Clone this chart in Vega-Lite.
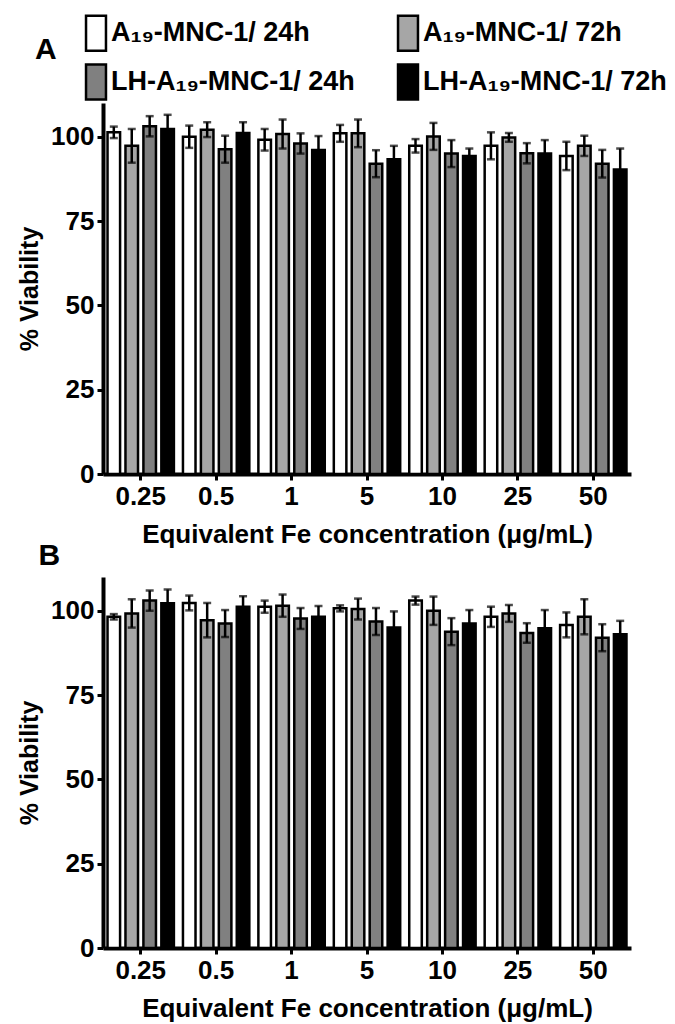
{
  "$schema": "https://vega.github.io/schema/vega-lite/v6.json",
  "padding": {"left": 17, "top": 14, "right": 5, "bottom": 5},
  "spacing": -6,
  "datasets": {
    "d": [
      {"p":"A","c":"0.25","s":"A₁₉-MNC-1/ 24h","v":101.3,"lo":99.6,"hi":103.0},
      {"p":"A","c":"0.25","s":"A₁₉-MNC-1/ 72h","v":97.3,"lo":92.3,"hi":102.3},
      {"p":"A","c":"0.25","s":"LH-A₁₉-MNC-1/ 24h","v":103.1,"lo":100.1,"hi":106.1},
      {"p":"A","c":"0.25","s":"LH-A₁₉-MNC-1/ 72h","v":102.3,"lo":98.1,"hi":106.5},
      {"p":"A","c":"0.5","s":"A₁₉-MNC-1/ 24h","v":100,"lo":96.7,"hi":103.3},
      {"p":"A","c":"0.5","s":"A₁₉-MNC-1/ 72h","v":102.1,"lo":99.9,"hi":104.3},
      {"p":"A","c":"0.5","s":"LH-A₁₉-MNC-1/ 24h","v":96.3,"lo":92.3,"hi":100.3},
      {"p":"A","c":"0.5","s":"LH-A₁₉-MNC-1/ 72h","v":101.1,"lo":97.9,"hi":104.3},
      {"p":"A","c":"1","s":"A₁₉-MNC-1/ 24h","v":99.1,"lo":95.9,"hi":102.3},
      {"p":"A","c":"1","s":"A₁₉-MNC-1/ 72h","v":100.8,"lo":96.5,"hi":105.1},
      {"p":"A","c":"1","s":"LH-A₁₉-MNC-1/ 24h","v":98,"lo":95,"hi":101},
      {"p":"A","c":"1","s":"LH-A₁₉-MNC-1/ 72h","v":96.1,"lo":92,"hi":100.2},
      {"p":"A","c":"5","s":"A₁₉-MNC-1/ 24h","v":101,"lo":98.5,"hi":103.5},
      {"p":"A","c":"5","s":"A₁₉-MNC-1/ 72h","v":101,"lo":96.9,"hi":105.1},
      {"p":"A","c":"5","s":"LH-A₁₉-MNC-1/ 24h","v":92,"lo":88,"hi":96},
      {"p":"A","c":"5","s":"LH-A₁₉-MNC-1/ 72h","v":93.3,"lo":89.3,"hi":97.3},
      {"p":"A","c":"10","s":"A₁₉-MNC-1/ 24h","v":97.3,"lo":95.3,"hi":99.3},
      {"p":"A","c":"10","s":"A₁₉-MNC-1/ 72h","v":100.1,"lo":96.1,"hi":104.1},
      {"p":"A","c":"10","s":"LH-A₁₉-MNC-1/ 24h","v":95,"lo":91,"hi":99},
      {"p":"A","c":"10","s":"LH-A₁₉-MNC-1/ 72h","v":94.3,"lo":92.1,"hi":96.5},
      {"p":"A","c":"25","s":"A₁₉-MNC-1/ 24h","v":97.3,"lo":93.3,"hi":101.3},
      {"p":"A","c":"25","s":"A₁₉-MNC-1/ 72h","v":99.8,"lo":98.5,"hi":101.1},
      {"p":"A","c":"25","s":"LH-A₁₉-MNC-1/ 24h","v":95.1,"lo":92.1,"hi":98.1},
      {"p":"A","c":"25","s":"LH-A₁₉-MNC-1/ 72h","v":95,"lo":91,"hi":99},
      {"p":"A","c":"50","s":"A₁₉-MNC-1/ 24h","v":94.3,"lo":90.1,"hi":98.5},
      {"p":"A","c":"50","s":"A₁₉-MNC-1/ 72h","v":97.3,"lo":94.3,"hi":100.3},
      {"p":"A","c":"50","s":"LH-A₁₉-MNC-1/ 24h","v":92,"lo":87.9,"hi":96.1},
      {"p":"A","c":"50","s":"LH-A₁₉-MNC-1/ 72h","v":90.3,"lo":84.1,"hi":96.5},
      {"p":"B","c":"0.25","s":"A₁₉-MNC-1/ 24h","v":98.2,"lo":97.4,"hi":99.0},
      {"p":"B","c":"0.25","s":"A₁₉-MNC-1/ 72h","v":99.2,"lo":95.0,"hi":103.4},
      {"p":"B","c":"0.25","s":"LH-A₁₉-MNC-1/ 24h","v":103,"lo":100,"hi":106},
      {"p":"B","c":"0.25","s":"LH-A₁₉-MNC-1/ 72h","v":102.2,"lo":98.1,"hi":106.3},
      {"p":"B","c":"0.5","s":"A₁₉-MNC-1/ 24h","v":102.3,"lo":100.1,"hi":104.5},
      {"p":"B","c":"0.5","s":"A₁₉-MNC-1/ 72h","v":97.2,"lo":92.1,"hi":102.3},
      {"p":"B","c":"0.5","s":"LH-A₁₉-MNC-1/ 24h","v":96.2,"lo":92.2,"hi":100.2},
      {"p":"B","c":"0.5","s":"LH-A₁₉-MNC-1/ 72h","v":101.2,"lo":98.1,"hi":104.3},
      {"p":"B","c":"1","s":"A₁₉-MNC-1/ 24h","v":101.2,"lo":99.4,"hi":103},
      {"p":"B","c":"1","s":"A₁₉-MNC-1/ 72h","v":101.5,"lo":98.2,"hi":104.8},
      {"p":"B","c":"1","s":"LH-A₁₉-MNC-1/ 24h","v":97.7,"lo":94.6,"hi":100.8},
      {"p":"B","c":"1","s":"LH-A₁₉-MNC-1/ 72h","v":98.2,"lo":95,"hi":101.4},
      {"p":"B","c":"5","s":"A₁₉-MNC-1/ 24h","v":100.7,"lo":99.8,"hi":101.6},
      {"p":"B","c":"5","s":"A₁₉-MNC-1/ 72h","v":100.5,"lo":97.4,"hi":103.6},
      {"p":"B","c":"5","s":"LH-A₁₉-MNC-1/ 24h","v":96.8,"lo":92.8,"hi":100.8},
      {"p":"B","c":"5","s":"LH-A₁₉-MNC-1/ 72h","v":95,"lo":90.2,"hi":99.8},
      {"p":"B","c":"10","s":"A₁₉-MNC-1/ 24h","v":103,"lo":101.8,"hi":104.2},
      {"p":"B","c":"10","s":"A₁₉-MNC-1/ 72h","v":100,"lo":95.8,"hi":104.2},
      {"p":"B","c":"10","s":"LH-A₁₉-MNC-1/ 24h","v":93.8,"lo":89.8,"hi":97.8},
      {"p":"B","c":"10","s":"LH-A₁₉-MNC-1/ 72h","v":96.2,"lo":92.2,"hi":100.2},
      {"p":"B","c":"25","s":"A₁₉-MNC-1/ 24h","v":98.2,"lo":95.2,"hi":101.2},
      {"p":"B","c":"25","s":"A₁₉-MNC-1/ 72h","v":99.2,"lo":96.7,"hi":101.7},
      {"p":"B","c":"25","s":"LH-A₁₉-MNC-1/ 24h","v":93.4,"lo":90.5,"hi":96.3},
      {"p":"B","c":"25","s":"LH-A₁₉-MNC-1/ 72h","v":94.8,"lo":89.4,"hi":100.2},
      {"p":"B","c":"50","s":"A₁₉-MNC-1/ 24h","v":95.8,"lo":92.1,"hi":99.5},
      {"p":"B","c":"50","s":"A₁₉-MNC-1/ 72h","v":98.2,"lo":93,"hi":103.4},
      {"p":"B","c":"50","s":"LH-A₁₉-MNC-1/ 24h","v":92,"lo":88,"hi":96},
      {"p":"B","c":"50","s":"LH-A₁₉-MNC-1/ 72h","v":93,"lo":89,"hi":97}
    ]
  },
  "config": {
    "view": {"stroke": null},
    "font": "Liberation Sans",
    "axis": {
      "domainColor": "black", "domainWidth": 4, "tickColor": "black", "tickWidth": 3, "tickSize": 6,
      "labelFont": "Liberation Sans", "labelFontWeight": "bold", "labelFontSize": 26, "labelColor": "black",
      "titleFont": "Liberation Sans", "titleFontWeight": "bold", "titleFontSize": 25, "titleColor": "black",
      "grid": false
    },
    "axisX": {"labelAngle": 0, "labelPadding": 3, "titlePadding": 12, "titleFontSize": 26},
    "axisY": {"labelPadding": 3, "titlePadding": 8}
  },
  "vconcat": [
    {
      "width": 528, "height": 371,
      "data": {"name": "d"},
      "transform": [{"filter": "datum.p == 'A'"}],
      "encoding": {
        "x": {"field": "c", "type": "ordinal", "sort": ["0.25","0.5","1","5","10","25","50"],
              "scale": {"paddingInner": 0.12, "paddingOuter": 0.06},
              "axis": {"title": "Equivalent Fe concentration (μg/mL)"}},
        "xOffset": {"field": "s", "type": "nominal",
                    "scale": {"domain": ["A₁₉-MNC-1/ 24h","A₁₉-MNC-1/ 72h","LH-A₁₉-MNC-1/ 24h","LH-A₁₉-MNC-1/ 72h"], "paddingInner": 0.3, "paddingOuter": 0}}
      },
      "layer": [
        {
          "mark": {"type": "bar", "stroke": "black", "strokeWidth": 2.5},
          "encoding": {
            "y": {"field": "v", "type": "quantitative", "scale": {"domain": [0, 110]},
                  "axis": {"values": [0, 25, 50, 75, 100], "title": "% Viability"}},
            "fill": {"field": "s", "type": "nominal",
                     "scale": {"domain": ["A₁₉-MNC-1/ 24h","LH-A₁₉-MNC-1/ 24h","A₁₉-MNC-1/ 72h","LH-A₁₉-MNC-1/ 72h"],
                               "range": ["#ffffff", "#808080", "#a6a6a6", "#000000"]},
                     "legend": {
                       "orient": "none", "legendX": -68, "legendY": -89, "columns": 2,
                       "title": "A", "titleOrient": "left", "titleFontSize": 30, "titleFontWeight": "bold",
                       "titleColor": "black", "titleFont": "Liberation Sans", "titleAnchor": "middle",
                       "titleBaseline": "alphabetic", "titlePadding": 20,
                       "symbolType": "M-0.57,-1L0.57,-1L0.57,1L-0.57,1Z", "symbolSize": 1225,
                       "symbolStrokeColor": "black", "symbolStrokeWidth": 2.5,
                       "labelFont": "Liberation Sans", "labelFontSize": 27, "labelFontWeight": "bold", "labelColor": "black",
                       "labelOffset": -4, "rowPadding": 3, "columnPadding": 34, "labelLimit": 400
                     }}
          }
        },
        {
          "mark": {"type": "rule", "color": "black", "strokeWidth": 2.5},
          "encoding": {"y": {"field": "lo", "type": "quantitative"}, "y2": {"field": "hi"}}
        },
        {
          "mark": {"type": "tick", "color": "black", "thickness": 2.5, "size": 8},
          "encoding": {"y": {"field": "hi", "type": "quantitative"}}
        },
        {
          "mark": {"type": "tick", "color": "black", "thickness": 2.5, "size": 8},
          "encoding": {"y": {"field": "lo", "type": "quantitative"}}
        }
      ]
    },
    {
      "width": 528, "height": 371,
      "title": {"text": "B", "anchor": "start", "frame": "bounds", "fontSize": 30, "fontWeight": "bold",
                "font": "Liberation Sans", "color": "black", "dx": 21, "offset": 6},
      "data": {"name": "d"},
      "transform": [{"filter": "datum.p == 'B'"}],
      "encoding": {
        "x": {"field": "c", "type": "ordinal", "sort": ["0.25","0.5","1","5","10","25","50"],
              "scale": {"paddingInner": 0.12, "paddingOuter": 0.06},
              "axis": {"title": "Equivalent Fe concentration (μg/mL)"}},
        "xOffset": {"field": "s", "type": "nominal",
                    "scale": {"domain": ["A₁₉-MNC-1/ 24h","A₁₉-MNC-1/ 72h","LH-A₁₉-MNC-1/ 24h","LH-A₁₉-MNC-1/ 72h"], "paddingInner": 0.3, "paddingOuter": 0}}
      },
      "layer": [
        {
          "mark": {"type": "bar", "stroke": "black", "strokeWidth": 2.5},
          "encoding": {
            "y": {"field": "v", "type": "quantitative", "scale": {"domain": [0, 110]},
                  "axis": {"values": [0, 25, 50, 75, 100], "title": "% Viability"}},
            "fill": {"field": "s", "type": "nominal",
                     "scale": {"domain": ["A₁₉-MNC-1/ 24h","LH-A₁₉-MNC-1/ 24h","A₁₉-MNC-1/ 72h","LH-A₁₉-MNC-1/ 72h"],
                               "range": ["#ffffff", "#808080", "#a6a6a6", "#000000"]}}
          }
        },
        {
          "mark": {"type": "rule", "color": "black", "strokeWidth": 2.5},
          "encoding": {"y": {"field": "lo", "type": "quantitative"}, "y2": {"field": "hi"}}
        },
        {
          "mark": {"type": "tick", "color": "black", "thickness": 2.5, "size": 8},
          "encoding": {"y": {"field": "hi", "type": "quantitative"}}
        },
        {
          "mark": {"type": "tick", "color": "black", "thickness": 2.5, "size": 8},
          "encoding": {"y": {"field": "lo", "type": "quantitative"}}
        }
      ]
    }
  ]
}
